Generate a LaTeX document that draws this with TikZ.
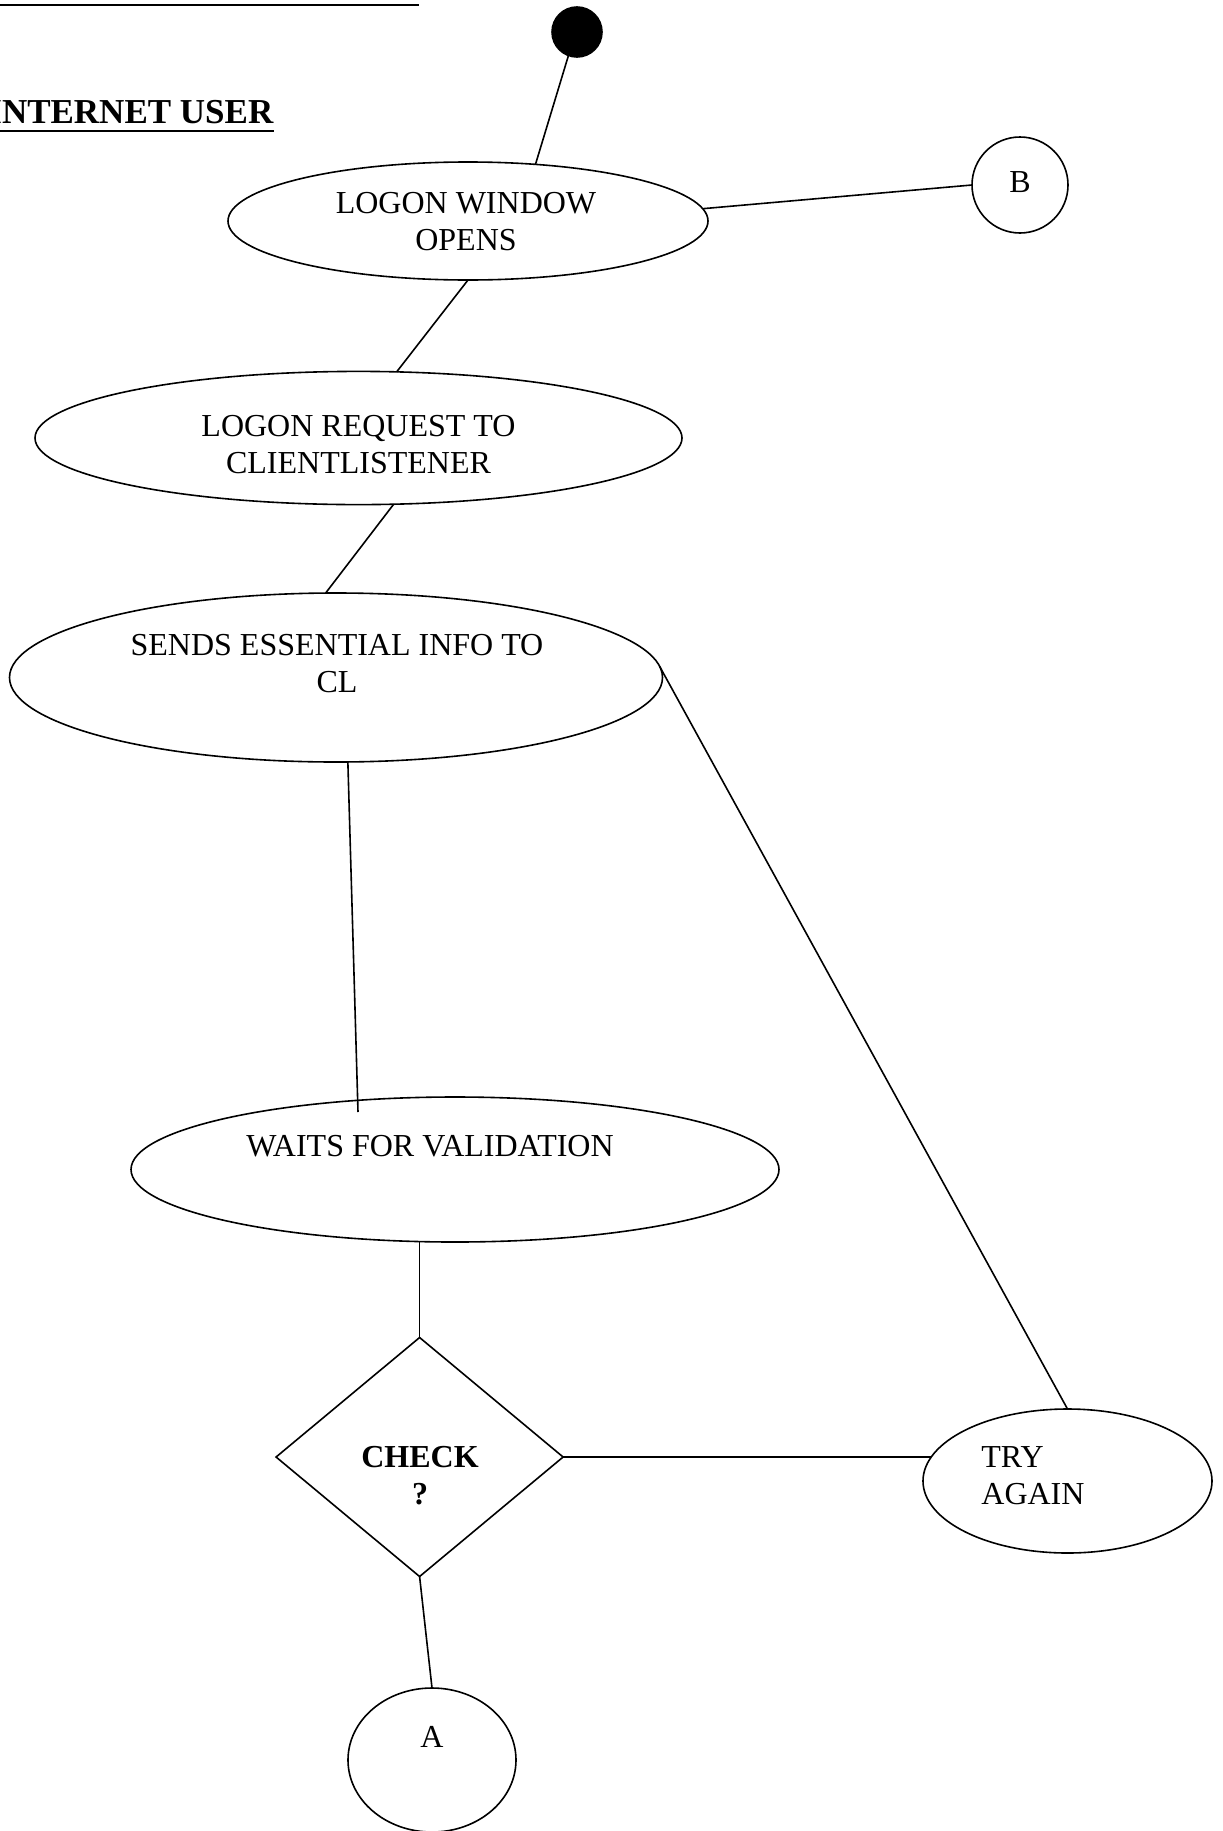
\documentclass[tikz,border=0pt]{standalone}
\usepackage{fontspec}
\setmainfont{Liberation Serif}
\usetikzlibrary{shapes.geometric}
\tikzset{
  ebox/.style={draw,ellipse,line width=0.8pt,inner sep=0pt,outer sep=0pt},
  cbox/.style={draw,circle,line width=0.8pt,inner sep=0pt,outer sep=0pt},
  dbox/.style={draw,diamond,line width=0.8pt,inner sep=0pt,outer sep=0pt},
  lbl/.style={inner sep=0pt,align=center,font=\fontsize{16}{18.5}\selectfont},
  ln/.style={line width=0.8pt},
}
\begin{document}
\begin{tikzpicture}[x=0.5pt,y=-0.5pt]
  \useasboundingbox (0,0) rectangle (1222,1831);
  \draw[line width=1pt] (0,5) -- (419,5);
  \node[lbl,anchor=base west,font=\bfseries\fontsize{17.5}{20}\selectfont] (user) at (-12,123) {INTERNET USER};
  \draw[line width=1pt] ([yshift=-4pt]user.base west) -- ([yshift=-4pt]user.base east);

  \node[cbox,fill=black,minimum size=25pt] (start) at (577,32) {};
  \node[ebox,minimum width=240pt,minimum height=59pt] (open) at (468,221) {};
  \node[cbox,minimum size=48pt] (b) at (1020,185) {};
  \node[ebox,minimum width=323.5pt,minimum height=66.6pt] (req) at (358.5,438) {};
  \node[ebox,minimum width=326.5pt,minimum height=84.5pt] (send) at (336,677.5) {};
  \node[ebox,minimum width=324pt,minimum height=72.5pt] (wait) at (455,1169.5) {};
  \node[dbox,minimum width=143.5pt,minimum height=119.5pt] (check) at (419.6,1457) {};
  \node[ebox,minimum width=144.5pt,minimum height=72pt] (try) at (1067.5,1481) {};
  \node[ebox,minimum width=84pt,minimum height=72pt] (a) at (432,1760) {};

  \node[lbl] (open-t) at (466,222) {LOGON WINDOW\\OPENS};
  \node[lbl] (b-t) at (1020,182) {B};
  \node[lbl] (req-t) at (358.5,445) {LOGON REQUEST TO\\CLIENTLISTENER};
  \node[lbl] (send-t) at (337,663.5) {SENDS ESSENTIAL INFO TO\\CL};
  \node[lbl] (wait-t) at (430,1146) {WAITS FOR VALIDATION};
  \node[lbl,font=\bfseries\fontsize{16}{18.5}\selectfont] (check-t) at (420,1476) {CHECK\\?};
  \node[lbl,anchor=west,align=left] (try-t) at (981,1476) {TRY\\AGAIN};
  \node[lbl] (a-t) at (432,1737) {A};

  \coordinate (waitin) at (358,1112);
  \draw[ln] (start.250) -- (open.40);
  \draw[ln] (open.3) -- (b.west);
  \draw[ln] (open.south) -- (req.60);
  \draw[ln] (req.-62.5) -- (send.97);
  \draw[ln] (send.-82) -- (waitin);
  \draw[ln] (send.2) -- (try.north);
  \draw[ln] (wait.south -| check.north) -- (check.north);
  \draw[ln] (check.east) -- (try.170);
  \draw[ln] (check.south) -- (a.north);
\end{tikzpicture}
\end{document}
